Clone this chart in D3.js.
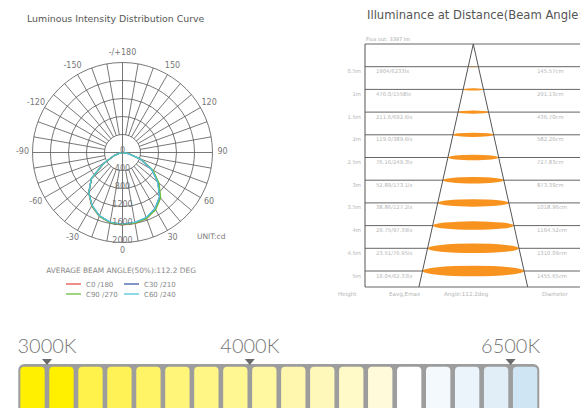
<!DOCTYPE html>
<html>
<head>
<meta charset="utf-8">
<script src="https://cdn.jsdelivr.net/npm/d3@7"></script>
<style>
  body { margin: 0; background: #fff; }
  svg { display: block; font-family: "DejaVu Sans", sans-serif; }
</style>
</head>
<body>
<svg id="chart" width="580" height="408"></svg>
<script>
// ---- polar data: gamma angle (deg) vs intensity (cd)
var gammas = [0, 10, 20, 30, 40, 50, 60, 70, 80, 90];
var series_names = ["C0  /180", "C30 /210", "C90 /270", "C60 /240"];
var series_colors = ["#e8524a", "#3d5ca8", "#6dbf3b", "#52c3dc"];
// right half of the plot (C0, C30, C90, C60)
var cd_right = [
  [1610, 1600, 1560, 1460, 1300, 1040, 760, 420, 140, 0],
  [1595, 1585, 1545, 1445, 1285, 1025, 750, 410, 130, 0],
  [1600, 1595, 1560, 1470, 1320, 1060, 780, 430, 140, 0],
  [1585, 1575, 1535, 1440, 1280, 1020, 745, 415, 135, 0]
];
// left half of the plot (C180, C210, C270, C240)
var cd_left = [
  [1615, 1585, 1510, 1370, 1170, 905, 480, 190, 50, 0],
  [1600, 1575, 1500, 1360, 1160, 900, 485, 195, 55, 0],
  [1605, 1580, 1505, 1365, 1165, 900, 475, 185, 50, 0],
  [1590, 1570, 1495, 1355, 1165, 910, 495, 200, 55, 0]
];
var ring_ticks = [0, 400, 800, 1200, 1600, 2000];
var angle_ticks = [180, 150, 120, 90, 60, 30, 0, -30, -60, -90, -120, -150];

// ---- illuminance table
var heights = [0.5, 1, 1.5, 2, 2.5, 3, 3.5, 4, 4.5, 5];
var height_labels = ["0.5m", "1m", "1.5m", "2m", "2.5m", "3m", "3.5m", "4m", "4.5m", "5m"];
var eavg = ["1904", "476.0", "211.6", "119.0", "76.16", "52.89", "38.86", "29.75", "23.51", "19.04"];
var emax = ["6233", "1558", "692.6", "389.6", "249.3", "173.1", "127.2", "97.39", "76.95", "62.33"];
var diameters = [145.57, 291.13, 436.70, 582.26, 727.83, 873.39, 1018.96, 1164.52, 1310.09, 1455.65];

// ---- CCT strip
var cct_colors = ["#fff000", "#fff000", "#fff24a", "#fff257", "#fff366", "#fff578",
  "#fff685", "#fff792", "#fff8a0", "#fff7ae", "#fff8bb", "#fffac8", "#fffbda",
  "#ffffff", "#f4f9fd", "#eaf4fa", "#e1eef7", "#d0e5f3"];
var cct_marks = [{label: "3000K", at: 1}, {label: "4000K", at: 8}, {label: "6500K", at: 17}];

var svg = d3.select("#chart");

// ================= polar chart =================
var cx = 122.5, cy = 152.5, R = 90;
var r = d3.scaleLinear().domain([0, 2000]).range([0, R]);
var polar = svg.append("g").attr("transform", "translate(" + cx + "," + cy + ")");

svg.append("text")
    .attr("x", 27).attr("y", 22)
    .style("font-size", "9.4px").style("fill", "#555")
    .text("Luminous Intensity Distribution Curve");

polar.selectAll(".ring")
    .data(ring_ticks.slice(1))
  .enter().append("circle")
    .attr("class", "ring")
    .attr("r", function(d){ return r(d); })
    .style("fill", "none").style("stroke", "#555").style("stroke-width", 0.8);

polar.selectAll(".spoke")
    .data(d3.range(0, 360, 10))
  .enter().append("line")
    .attr("class", "spoke")
    .attr("x1", function(d){ return (d % 90 == 0 ? 0 : r(400)) * Math.sin(d * Math.PI / 180); })
    .attr("y1", function(d){ return (d % 90 == 0 ? 0 : r(400)) * Math.cos(d * Math.PI / 180); })
    .attr("x2", function(d){ return R * Math.sin(d * Math.PI / 180); })
    .attr("y2", function(d){ return R * Math.cos(d * Math.PI / 180); })
    .style("stroke", "#555").style("stroke-width", 0.8);

polar.selectAll(".angle-label")
    .data(angle_ticks)
  .enter().append("text")
    .attr("class", "angle-label")
    .attr("x", function(d){ return 100 * Math.sin(d * Math.PI / 180); })
    .attr("y", function(d){ return 99 * Math.cos(d * Math.PI / 180) - 1; })
    .attr("text-anchor", "middle").attr("dominant-baseline", "central")
    .style("font-size", "8px").style("fill", "#777")
    .text(function(d){ return d == 180 ? "-/+180" : d; });

var curve = d3.lineRadial()
    .angle(function(d){ return d[0]; })
    .radius(function(d){ return r(d[1]); });

series_names.forEach(function(name, i){
  var pts = [];
  for (var k = gammas.length - 1; k >= 0; k--) pts.push([Math.PI + gammas[k] * Math.PI / 180, cd_left[i][k]]);
  for (var k = 0; k < gammas.length; k++) pts.push([Math.PI - gammas[k] * Math.PI / 180, cd_right[i][k]]);
  polar.append("path")
      .attr("class", "cd-curve")
      .attr("d", curve(pts))
      .style("fill", "none").style("stroke", series_colors[i]).style("stroke-width", 1.3);
});

polar.selectAll(".ring-label")
    .data(ring_ticks)
  .enter().append("text")
    .attr("class", "ring-label")
    .attr("x", 0)
    .attr("y", function(d){ return r(d) + 0.5; })
    .attr("text-anchor", "middle")
    .style("font-size", "8px").style("fill", "#777")
    .text(function(d){ return d; });

svg.append("text")
    .attr("x", 197).attr("y", 239)
    .style("font-size", "7.5px").style("fill", "#777")
    .text("UNIT:cd");

svg.append("text")
    .attr("x", 121).attr("y", 273)
    .attr("text-anchor", "middle")
    .style("font-size", "7.4px").style("fill", "#888")
    .text("AVERAGE BEAM ANGLE(50%):112.2 DEG");

var legend = svg.selectAll(".legend-item")
    .data(series_names)
  .enter().append("g")
    .attr("class", "legend-item")
    .attr("transform", function(d, i){
      return "translate(" + (66 + (i % 2) * 58) + "," + (284 + Math.floor(i / 2) * 10) + ")";
    });
legend.append("line")
    .attr("x1", 0).attr("x2", 15)
    .style("stroke", function(d, i){ return series_colors[i]; }).style("stroke-width", 1.3);
legend.append("text")
    .attr("x", 20).attr("y", 2.5)
    .style("font-size", "7px").style("fill", "#888")
    .text(function(d){ return d; });

// ================= illuminance at distance =================
var top_y = 44, bottom_y = 287, left_x = 365, apex_x = 473.3;
var y = d3.scaleLinear().domain([0, 5]).range([top_y, 271]);
var w = d3.scaleLinear().domain([0, 1455.65]).range([0, 101.6]);
var cm_per_m = 1455.65 / 5;

// the reference clips this title at the right edge
svg.append("text")
    .attr("x", 367).attr("y", 19)
    .style("font-size", "11.6px").style("fill", "#555")
    .text("Illuminance at Distance(Beam Angle:112.2deg)");

svg.append("text")
    .attr("x", 366).attr("y", 41)
    .style("font-size", "5px").style("fill", "#aaa")
    .text("Flux out: 3397 lm");

svg.selectAll(".row-line")
    .data([0].concat(heights))
  .enter().append("line")
    .attr("class", "row-line")
    .attr("x1", left_x).attr("x2", 580)
    .attr("y1", function(d){ return y(d); }).attr("y2", function(d){ return y(d); })
    .style("stroke", "#666").style("stroke-width", 1);

svg.append("line")
    .attr("x1", left_x).attr("x2", 580)
    .attr("y1", bottom_y).attr("y2", bottom_y)
    .style("stroke", "#666").style("stroke-width", 1);
svg.append("line")
    .attr("x1", left_x).attr("x2", left_x)
    .attr("y1", top_y).attr("y2", bottom_y)
    .style("stroke", "#555").style("stroke-width", 1);

svg.selectAll(".spot")
    .data(diameters)
  .enter().append("ellipse")
    .attr("class", "spot")
    .attr("cx", apex_x)
    .attr("cy", function(d, i){ return y(heights[i]); })
    .attr("rx", function(d){ return w(d) / 2; })
    .attr("ry", function(d){ return w(d) / 2 * 0.105; })
    .style("fill", "#f7931e")
    .style("opacity", function(d, i){ return i == 0 ? 0.45 : 1; });

var bottom_half = w(y.invert(bottom_y) * cm_per_m) / 2;
svg.append("path")
    .attr("d", "M" + (apex_x - bottom_half) + "," + bottom_y + "L" + apex_x + "," + top_y + "L" + (apex_x + bottom_half) + "," + bottom_y)
    .style("fill", "none").style("stroke", "#555").style("stroke-width", 1);

var rows = svg.selectAll(".row-text")
    .data(heights)
  .enter().append("g")
    .attr("class", "row-text")
    .attr("transform", function(d){ return "translate(0," + (y(d) + 6.5) + ")"; })
    .style("font-size", "5.3px").style("fill", "#b5b5b5");
rows.append("text").attr("x", 361).attr("text-anchor", "end")
    .text(function(d, i){ return height_labels[i]; });
rows.append("text").attr("x", 376)
    .text(function(d, i){ return eavg[i] + "/" + emax[i] + "lx"; });
rows.append("text").attr("x", 537)
    .text(function(d, i){ return diameters[i].toFixed(2) + "cm"; });

svg.selectAll(".foot-label")
    .data([["Height", 338], ["Eavg,Emax", 389], ["Angle:112.2deg", 444], ["Diameter", 542]])
  .enter().append("text")
    .attr("class", "foot-label")
    .attr("x", function(d){ return d[1]; }).attr("y", 296)
    .style("font-size", "5.6px").style("fill", "#b5b5b5")
    .text(function(d){ return d[0]; });

// ================= CCT strip =================
var band = d3.scaleBand()
    .domain(d3.range(cct_colors.length))
    .range([18.3, 539.3])
    .paddingInner(0.16)
    .paddingOuter(0.07);

svg.append("rect")
    .attr("x", 18.3).attr("y", 364)
    .attr("width", 521).attr("height", 70)
    .attr("rx", 6)
    .style("fill", "#9d9d9d");

svg.selectAll(".cct-cell")
    .data(cct_colors)
  .enter().append("rect")
    .attr("class", "cct-cell")
    .attr("x", function(d, i){ return band(i); })
    .attr("y", 366.7)
    .attr("width", band.bandwidth())
    .attr("height", 60)
    .attr("rx", 4)
    .style("fill", function(d){ return d; });

var gap = band.step() * band.paddingInner();
var marks = svg.selectAll(".cct-mark")
    .data(cct_marks)
  .enter().append("g")
    .attr("class", "cct-mark")
    .attr("transform", function(d){ return "translate(" + (band(d.at) - gap / 2) + ",0)"; });
marks.append("path")
    .attr("d", "M-5,359L5,359L0,365Z")
    .style("fill", "#6a6a6a");
marks.append("text")
    .attr("y", 353)
    .attr("text-anchor", "middle")
    .style("font-family", "Lato, sans-serif").style("font-weight", 300)
    .style("font-size", "20px").style("fill", "#777")
    .text(function(d){ return d.label; });
</script>
</body>
</html>
